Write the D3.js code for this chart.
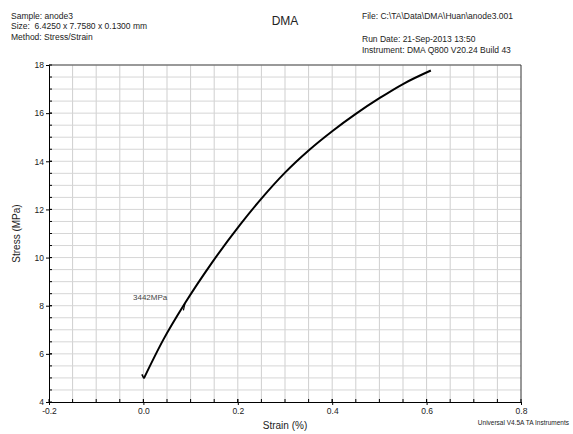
<!DOCTYPE html>
<html><head><meta charset="utf-8">
<script src="https://cdn.jsdelivr.net/npm/d3@7"></script>
<style>body{margin:0;background:#fff}text{font-family:"Liberation Sans",Arial,sans-serif}</style>
</head><body><svg id="c" width="573" height="434"></svg>
<script>
const strain = [0.001, 0.042, 0.088, 0.145, 0.205, 0.25, 0.3, 0.35, 0.4, 0.45, 0.5, 0.55, 0.609];
const stress = [4.98, 6.58, 8.1, 9.78, 11.37, 12.45, 13.53, 14.45, 15.25, 15.97, 16.62, 17.21, 17.77];
const xTicks = [-0.2, 0.0, 0.2, 0.4, 0.6, 0.8];
const yTicks = [4, 6, 8, 10, 12, 14, 16, 18];
const headerLeft = ["Sample: anode3", "Size:  6.4250 x 7.7580 x 0.1300 mm", "Method: Stress/Strain"];
const headerRight = ["File: C:\\TA\\Data\\DMA\\Huan\\anode3.001", "Run Date: 21-Sep-2013 13:50", "Instrument: DMA Q800 V20.24 Build 43"];
const annotation = {strain: 0.088, stress: 8.1, label: "3442MPa"};

const svg = d3.select("#c");
const L = 49, R = 521, T = 65, B = 402;
const x = d3.scaleLinear().domain([-0.2, 0.8]).range([L, R]);
const y = d3.scaleLinear().domain([4, 18]).range([B, T]);

// grid
const g = svg.append("g");
d3.range(-0.15, 0.8, 0.05).forEach(v => {
  g.append("line").attr("x1", x(v)).attr("x2", x(v)).attr("y1", T).attr("y2", B)
   .attr("stroke", "#cfcfcf").attr("stroke-width", 1);
});
d3.range(4.5, 18, 0.5).forEach(v => {
  g.append("line").attr("x1", L).attr("x2", R).attr("y1", y(v)).attr("y2", y(v))
   .attr("stroke", "#d6d6d6").attr("stroke-width", 1);
});
// frame top/right
svg.append("line").attr("x1", L).attr("x2", R).attr("y1", T).attr("y2", T).attr("stroke", "#777").attr("stroke-width", 1.5);
svg.append("line").attr("x1", R).attr("x2", R).attr("y1", T).attr("y2", B).attr("stroke", "#333").attr("stroke-width", 1);

// axes
const xAxis = d3.axisBottom(x).tickValues(xTicks).tickFormat(d => d.toFixed(1)).tickSize(3).tickPadding(3);
const gx = svg.append("g").attr("transform", `translate(0,${B})`).call(xAxis);
const yAxis = d3.axisLeft(y).tickValues(yTicks).tickFormat(d => String(d)).tickSize(3).tickPadding(2);
const gy = svg.append("g").attr("transform", `translate(${L},0)`).call(yAxis);
[gx, gy].forEach(a => {
  a.select(".domain").attr("stroke", "#000");
  a.selectAll("text").attr("font-size", 8.5).attr("fill", "#222").style("font-family", '"Liberation Sans",Arial,sans-serif');
  a.selectAll(".tick line").attr("stroke", "#000");
});
// minor ticks (inside)
d3.range(-0.15, 0.8, 0.05).forEach(v => {
  svg.append("line").attr("x1", x(v)).attr("x2", x(v)).attr("y1", B).attr("y2", B - 3).attr("stroke", "#000");
});
d3.range(4.5, 18, 0.5).forEach(v => {
  svg.append("line").attr("x1", L).attr("x2", L + 3).attr("y1", y(v)).attr("y2", y(v)).attr("stroke", "#000");
});
yTicks.forEach(v => svg.append("line").attr("x1", L).attr("x2", L + 3).attr("y1", y(v)).attr("y2", y(v)).attr("stroke", "#000"));
xTicks.forEach(v => svg.append("line").attr("x1", x(v)).attr("x2", x(v)).attr("y1", B).attr("y2", B - 3).attr("stroke", "#000"));

// curve
const pts = strain.map((s, i) => [s, stress[i]]);
svg.append("path").datum(pts)
  .attr("d", d3.line().x(d => x(d[0])).y(d => y(d[1])).curve(d3.curveMonotoneX))
  .attr("fill", "none").attr("stroke", "#000").attr("stroke-width", 2);
// start barb
svg.append("line").attr("x1", x(strain[0])).attr("y1", y(stress[0]))
  .attr("x2", x(strain[0]) - 2).attr("y2", y(stress[0]) - 4).attr("stroke", "#000").attr("stroke-width", 1.5);
// annotation tick
svg.append("line").attr("x1", x(annotation.strain)).attr("y1", y(annotation.stress))
  .attr("x2", x(annotation.strain) - 1.5).attr("y2", y(annotation.stress) + 7).attr("stroke", "#000").attr("stroke-width", 1.2);
svg.append("text").attr("x", 133).attr("y", 299.5).attr("font-size", 8).attr("fill", "#444").text(annotation.label);

// header
headerLeft.forEach((t, i) => svg.append("text").attr("x", 11).attr("y", [19, 28.5, 39.5][i])
  .attr("font-size", 8.5).attr("fill", "#222").attr("xml:space", "preserve").style("white-space", "pre").text(t));
svg.append("text").attr("x", 285).attr("y", 25).attr("text-anchor", "middle").attr("font-size", 12).attr("fill", "#222").text("DMA");
headerRight.forEach((t, i) => svg.append("text").attr("x", 362).attr("y", [19, 42, 53][i])
  .attr("font-size", 8.5).attr("fill", "#222").text(t));

// axis titles
svg.append("text").attr("x", (L + R) / 2).attr("y", 429).attr("text-anchor", "middle").attr("font-size", 10).attr("fill", "#222").text("Strain (%)");
svg.append("text").attr("transform", `translate(20,${(T + B) / 2}) rotate(-90)`).attr("text-anchor", "middle").attr("font-size", 10).attr("fill", "#222").text("Stress (MPa)");
svg.append("text").attr("x", 569).attr("y", 425).attr("text-anchor", "end").attr("font-size", 6.5).attr("fill", "#222").text("Universal V4.5A TA Instruments");
</script></body></html>
